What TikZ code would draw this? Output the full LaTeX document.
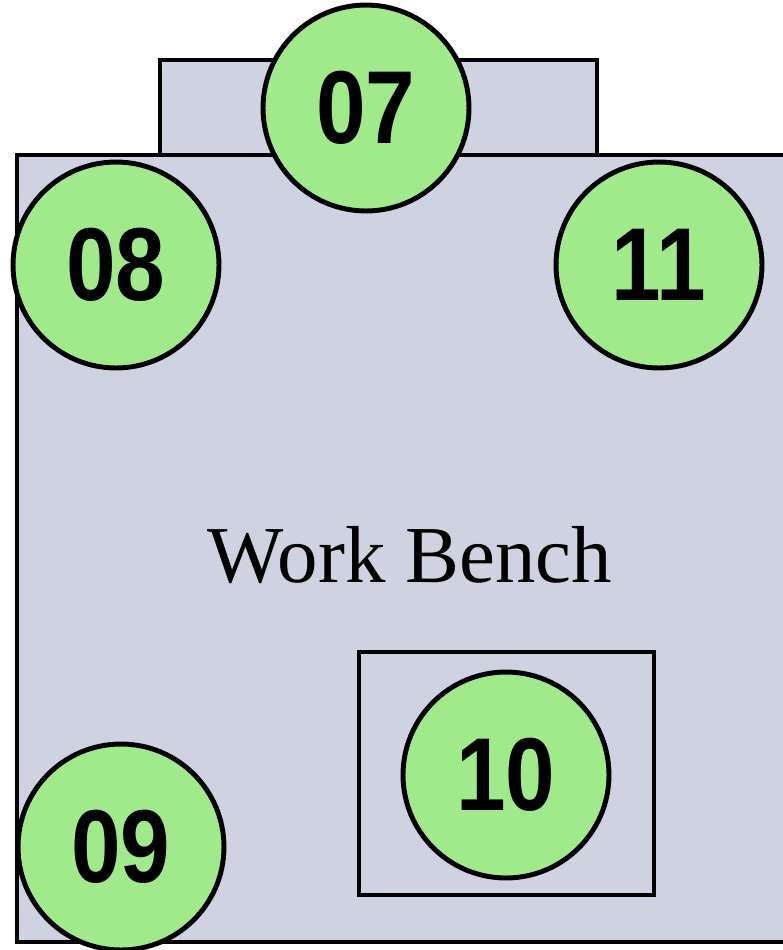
\documentclass[tikz,border=0pt]{standalone}
\usepackage{fontspec}
\setmainfont{Liberation Serif}
\newfontfamily\numfont[FakeStretch=0.86]{Liberation Sans}
\definecolor{benchgray}{RGB}{207,211,225}
\definecolor{spotgreen}{RGB}{160,234,140}
\begin{document}
\begin{tikzpicture}[x=0.02cm, y=-0.02cm,
  spot/.style={circle, draw=black, line width=2.8pt, fill=spotgreen,
    minimum size=4.12cm, inner sep=0pt,
    font=\numfont\bfseries\fontsize{59}{60}\selectfont}]

\useasboundingbox (0,0) rectangle (783,950);
\clip (0,0) rectangle (783,950);


% Shelf behind the bench
\filldraw[fill=benchgray, draw=black, line width=2.8pt] (160,60) rectangle (597,155);

% Work bench
\filldraw[fill=benchgray, draw=black, line width=2.8pt] (17,155) rectangle (800,942);

\path
(410,555) node (bench) {\fontsize{46}{50}\selectfont Work Bench};

% Box round spot 10
\draw[black, line width=2.8pt] (359,652) rectangle (654,895);


% Spots
\path
(366,108) node [spot] (s07) {07};

\path
(116,265) node [spot] (s08) {08};

\path
(121,847) node [spot] (s09) {09};

\path
(506,775) node [spot] (s10) {10};

\path
(659,265) node [spot] (s11) {11};


\end{tikzpicture}
\end{document}
